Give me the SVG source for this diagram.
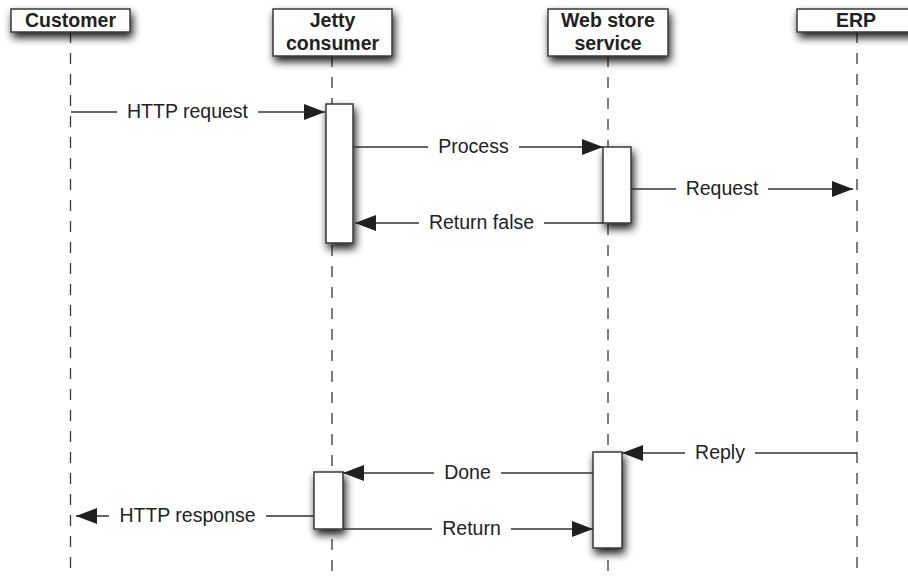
<svg xmlns="http://www.w3.org/2000/svg" width="908" height="576" viewBox="0 0 908 576">
  <defs>
    <filter id="shadow" x="-40%" y="-40%" width="180%" height="200%">
      <feGaussianBlur in="SourceAlpha" stdDeviation="4"/>
      <feOffset dx="2" dy="5" result="b"/>
      <feComponentTransfer><feFuncA type="linear" slope="0.9"/></feComponentTransfer>
      <feMerge><feMergeNode/><feMergeNode in="SourceGraphic"/></feMerge>
    </filter>
    <marker id="arrow" viewBox="0 0 21 16" refX="21" refY="8" markerWidth="21" markerHeight="16" markerUnits="userSpaceOnUse" orient="auto">
      <path d="M0,0 L21,8 L0,16 Z" fill="#1f1f1f"/>
    </marker>
  </defs>
  <style>
    .box { fill: #fff; stroke: #3a3a3a; stroke-width: 1.5; }
    .head { font-family: "Liberation Sans", Arial, sans-serif; font-size: 19.5px; font-weight: bold; fill: #222; text-anchor: middle; }
    .lbl { font-family: "Liberation Sans", Arial, sans-serif; font-size: 19.5px; fill: #222; text-anchor: middle; }
    .life { stroke: #3a3a3a; stroke-width: 1.3; stroke-dasharray: 11 10; fill: none; }
    .msg { stroke: #333; stroke-width: 1.3; fill: none; }
  </style>
  <rect width="908" height="576" fill="#fff"/>

  <g id="lifelines">
    <line class="life" x1="70.5" y1="32" x2="70.5" y2="576"/>
    <line class="life" x1="332" y1="56" x2="332" y2="576"/>
    <line class="life" x1="608" y1="56" x2="608" y2="576"/>
    <line class="life" x1="857" y1="32" x2="857" y2="576"/>
  </g>

  <g id="customer">
    <rect class="box" x="11" y="9" width="119" height="23" filter="url(#shadow)"/>
    <text class="head" x="70.5" y="27">Customer</text>
  </g>
  <g id="jetty">
    <rect class="box" x="273" y="9" width="119" height="47" filter="url(#shadow)"/>
    <text class="head" x="332.5" y="27">Jetty</text>
    <text class="head" x="332.5" y="50">consumer</text>
  </g>
  <g id="webstore">
    <rect class="box" x="548" y="9" width="120" height="47" filter="url(#shadow)"/>
    <text class="head" x="608" y="27">Web store</text>
    <text class="head" x="608" y="50">service</text>
  </g>
  <g id="erp">
    <rect class="box" x="797" y="9" width="120" height="23" filter="url(#shadow)"/>
    <text class="head" x="856" y="27">ERP</text>
  </g>

  <g id="activations">
    <rect id="jetty-act1" class="box" x="326" y="104" width="27" height="139" filter="url(#shadow)"/>
    <rect id="web-act1" class="box" x="603" y="147" width="28" height="76" filter="url(#shadow)"/>
    <rect id="web-act2" class="box" x="593" y="452" width="29" height="96" filter="url(#shadow)"/>
    <rect id="jetty-act2" class="box" x="314" y="472" width="29" height="57" filter="url(#shadow)"/>
  </g>

  <g id="connectors">
    <!-- HTTP request -->
    <line class="msg" x1="71" y1="112" x2="117" y2="112"/>
    <line class="msg" x1="258" y1="112" x2="325" y2="112" marker-end="url(#arrow)"/>
    <text class="lbl" x="187.5" y="118">HTTP request</text>
    <!-- Process -->
    <line class="msg" x1="353" y1="147" x2="428" y2="147"/>
    <line class="msg" x1="519" y1="147" x2="603" y2="147" marker-end="url(#arrow)"/>
    <text class="lbl" x="473.5" y="153">Process</text>
    <!-- Request -->
    <line class="msg" x1="631" y1="189" x2="676" y2="189"/>
    <line class="msg" x1="768" y1="189" x2="853" y2="189" marker-end="url(#arrow)"/>
    <text class="lbl" x="722" y="195">Request</text>
    <!-- Return false -->
    <line class="msg" x1="603" y1="223" x2="544" y2="223"/>
    <line class="msg" x1="419" y1="223" x2="355" y2="223" marker-end="url(#arrow)"/>
    <text class="lbl" x="481.5" y="229">Return false</text>
    <!-- Reply -->
    <line class="msg" x1="857" y1="453" x2="755" y2="453"/>
    <line class="msg" x1="685" y1="453" x2="622" y2="453" marker-end="url(#arrow)"/>
    <text class="lbl" x="720" y="459">Reply</text>
    <!-- Done -->
    <line class="msg" x1="593" y1="473" x2="501" y2="473"/>
    <line class="msg" x1="434" y1="473" x2="343" y2="473" marker-end="url(#arrow)"/>
    <text class="lbl" x="467.5" y="479">Done</text>
    <!-- HTTP response -->
    <line class="msg" x1="314" y1="516" x2="266" y2="516"/>
    <line class="msg" x1="109" y1="516" x2="76" y2="516" marker-end="url(#arrow)"/>
    <text class="lbl" x="187.5" y="522">HTTP response</text>
    <!-- Return -->
    <line class="msg" x1="343" y1="529" x2="432" y2="529"/>
    <line class="msg" x1="511" y1="529" x2="593" y2="529" marker-end="url(#arrow)"/>
    <text class="lbl" x="471.5" y="535">Return</text>
  </g>
</svg>
